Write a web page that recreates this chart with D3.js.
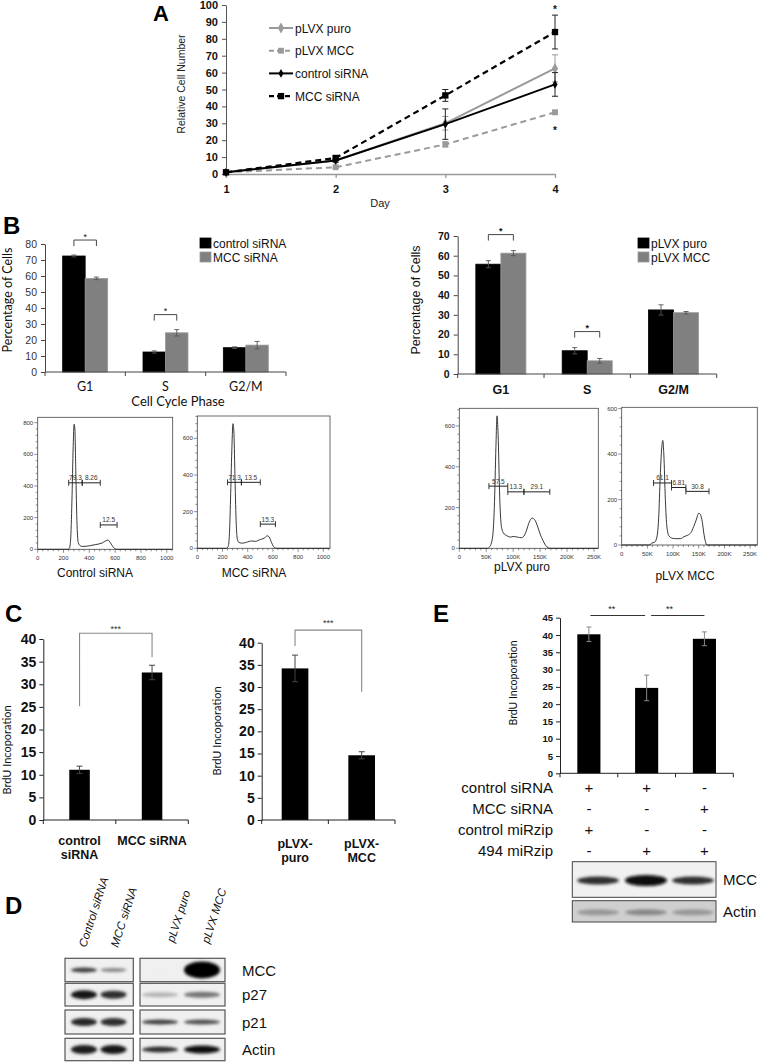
<!DOCTYPE html>
<html><head><meta charset="utf-8">
<script src="https://cdn.jsdelivr.net/npm/d3@7"></script>
<style>body{margin:0;background:#fff}svg{display:block}</style>
</head><body><script>
const FONT = "'Liberation Sans', Arial, sans-serif";
const HUM = "Lato, 'Open Sans', sans-serif";

// ---------------- DATA ----------------
// Panel A
const daysA = [1, 2, 3, 4];
const yTicksA = [0,10,20,30,40,50,60,70,80,90,100];
const pLVXpuroA = [1, 8, 30, 62.5];
const pLVXpuroErrA = [0.3, 1, 4, 8];
const pLVXmccA = [1, 4, 17.5, 36.5];
const pLVXmccErrA = [0.3, 0.7, 1.5, 1.2];
const ctrlSiA = [1, 8, 29.5, 53];
const ctrlSiErrA = [0.3, 1, 9, 7];
const mccSiA = [1, 9.5, 46.5, 84];
const mccSiErrA = [0.3, 1, 3.5, 10];
const legendA = ["pLVX puro", "pLVX MCC", "control siRNA", "MCC siRNA"];

// Panel B
const phasesB = ["G1", "S", "G2/M"];
const ctrlSiB = [72.5, 12.5, 15.2];
const ctrlSiErrB = [0.6, 0.7, 0.5];
const mccSiB = [58.5, 24.5, 16.8];
const mccSiErrB = [0.8, 2.0, 2.3];
const puroB = [55.7, 11.8, 32.5];
const puroErrB = [1.8, 1.6, 2.6];
const lvxMccB = [61.3, 6.7, 31.1];
const lvxMccErrB = [1.3, 1.2, 0.6];
const sigB = [0, 1]; // categories with "*"

// Flow histograms (x, count)
const hist1Pts = [[0,0],[230,0],[245,5],[255,60],[265,300],[275,650],[282,790],[288,760],[295,500],[305,150],[315,40],[330,22],[350,18],[400,22],[450,30],[500,40],[530,55],[545,58],[560,45],[580,20],[600,3],[620,0],[1040,0]];
const hist1Gates = [[240,345,420],[345,485,420],[485,615,154]];
const hist1Labels = ["79.3","8.26","12.5"];
const hist2Pts = [[0,0],[230,0],[245,10],[255,80],[265,300],[275,560],[283,680],[290,640],[298,420],[308,150],[318,50],[330,32],[360,28],[400,35],[430,40],[460,38],[500,48],[530,55],[555,68],[570,62],[590,30],[610,5],[630,0],[1050,0]];
const hist2Gates = [[240,350,360],[350,500,360],[500,620,132]];
const hist2Labels = ["71.3","13.5","15.3"];
const hist3Pts = [[0,0],[52,0],[57,10],[62,60],[65,200],[68,500],[70,650],[72,560],[75,250],[78,110],[82,75],[88,62],[95,55],[100,58],[108,55],[115,52],[120,60],[125,90],[130,130],[135,148],[140,140],[145,110],[150,70],[155,40],[160,15],[165,3],[170,0],[258,0]];
const hist3Gates = [[55,90,305],[90,120,277],[120,168,277]];
const hist3Labels = ["57.5","13.3","29.1"];
const hist4Pts = [[0,0],[55,0],[58,8],[64,12],[68,30],[72,120],[75,300],[78,430],[80,460],[82,400],[85,200],[88,80],[92,40],[98,30],[105,28],[115,28],[120,35],[125,40],[130,45],[135,55],[140,80],[145,110],[150,140],[153,135],[157,100],[160,50],[163,15],[166,0],[264,0]];
const hist4Gates = [[62,97,273],[97,125,253],[125,170,236]];
const hist4Labels = ["61.1","6.81","30.8"];
const histSiTicksX = [0,200,400,600,800,1000];
const hist1TicksY = [0,200,400,600,800];
const hist2TicksY = [0,200,400,600];
const histLvxTicksX = [0,50,100,150,200,250];
const histLvxTicksY = [0,200,400,600];

// Panel C
const c1Cats = ["control siRNA", "MCC siRNA"];
const c1Lines = [["control","siRNA"],["MCC siRNA"]];
const c1Vals = [11.1, 32.6];
const c1Err = [0.8, 1.6];
const c2Cats = ["pLVX-puro", "pLVX-MCC"];
const c2Lines = [["pLVX-","puro"],["pLVX-","MCC"]];
const c2Vals = [34.2, 14.6];
const c2Err = [3.0, 0.8];
const yTicksC = [0,5,10,15,20,25,30,35,40];

// Panel E
const eCats = ["a","b","c"];
const eVals = [40.2, 24.7, 38.9];
const eErr = [2.1, 3.7, 2.0];
const yTicksE = [0,5,10,15,20,25,30,35,40,45];
const eRows = ["control siRNA","MCC siRNA","control miRzip","494 miRzip"];
const eSigns = [["+","+","-"],["-","-","+"],["+","-","-"],["-","+","+"]];
const eBlotRows = ["MCC","Actin"];
const eBlotDark = [[0.85,0.97,0.85],[0.5,0.55,0.5]];
const eBlotThick = [[8,11,8],[6,6,6]];

// Panel D
const dLanes = ["Control siRNA","MCC siRNA","pLVX puro","pLVX MCC"];
const dRows = ["MCC","p27","p21","Actin"];
const dLeftDark = [[0.8,0.55],[0.92,0.85],[0.88,0.85],[0.9,0.92]];
const dLeftThick = [[5,4],[9,8],[8,8],[9,9]];
const dRightDark = [[0.12,1],[0.4,0.62],[0.8,0.75],[0.85,0.95]];
const dRightThick = [[3,17],[5,6],[5,5],[6,8]];

// ---------------- SETUP ----------------
const svg = d3.select("body").append("svg").attr("width",761).attr("height",1062)
  .style("font-family",FONT);
const defs = svg.append("defs");
defs.append("filter").attr("id","blur").attr("x","-50%").attr("y","-150%").attr("width","200%").attr("height","400%")
  .append("feGaussianBlur").attr("stdDeviation",1.6);

function txt(g, s, x, y, o={}) {
  return g.append("text").attr("x",x).attr("y",y).text(s)
    .attr("font-size",o.size||12).attr("font-weight",o.bold?"bold":"normal")
    .attr("font-style",o.italic?"italic":"normal")
    .attr("font-family",o.font||FONT).attr("fill",o.fill||"#111")
    .attr("text-anchor",o.anchor||"start");
}
function vtxt(g, s, x, y, o={}) {
  return txt(g,s,0,0,Object.assign({anchor:"middle"},o)).attr("transform",`translate(${x},${y}) rotate(-90)`);
}
function errBar(g, cx, yt, yb, cap, color, w) {
  g.append("line").attr("x1",cx).attr("x2",cx).attr("y1",yt).attr("y2",yb).attr("stroke",color).attr("stroke-width",w||1);
  [yt,yb].forEach(yy=>g.append("line").attr("x1",cx-cap).attr("x2",cx+cap).attr("y1",yy).attr("y2",yy).attr("stroke",color).attr("stroke-width",w||1));
}
function styleAxis(a, o) {
  a.select(".domain").attr("stroke",o.stroke||"#222").attr("stroke-width",o.sw||1);
  a.selectAll(".tick line").attr("stroke",o.stroke||"#222");
  a.selectAll("text").attr("font-size",o.size||10).attr("font-weight",o.bold?"bold":"normal")
   .attr("font-family",o.font||FONT).attr("fill",o.fill||"#111");
}

// panel letters
[["A",153,21,22],["B",3,234,24],["C",5,622,24],["D",5,914,24],["E",433,622,24]].forEach(([l,x,y,s])=>
  txt(svg,l,x,y,{size:s,bold:true,fill:"#000"}));

// ---------------- PANEL A ----------------
(function(){
  const g = svg.append("g");
  const x = d3.scalePoint().domain(daysA).range([226,555]);
  const y = d3.scaleLinear().domain([0,100]).range([174,5]);
  const ya = g.append("g").attr("transform","translate(226,0)")
    .call(d3.axisLeft(y).tickValues(yTicksA).tickSize(4).tickSizeOuter(0).tickPadding(4));
  styleAxis(ya,{stroke:"#555",size:11,bold:true});
  const xa = g.append("g").attr("transform","translate(0,174)")
    .call(d3.axisBottom(x).tickSize(4).tickSizeOuter(0).tickPadding(7));
  styleAxis(xa,{stroke:"#999",sw:1.6,size:11,bold:true});
  xa.selectAll(".tick line").attr("stroke","#999").attr("stroke-width",1.3);
  vtxt(g,"Relative Cell Number",185,84,{size:10.5,fill:"#222"});
  txt(g,"Day",380,207,{size:11,anchor:"middle",fill:"#222"});

  const series = [
    {vals:pLVXmccA, err:pLVXmccErrA, color:"#9a9a9a", dash:"6,4", sym:d3.symbolSquare, size:34, w:2},
    {vals:pLVXpuroA, err:pLVXpuroErrA, color:"#9a9a9a", dash:null, sym:d3.symbolDiamond, size:34, w:2},
    {vals:ctrlSiA, err:ctrlSiErrA, color:"#000", dash:null, sym:d3.symbolDiamond, size:22, w:2},
    {vals:mccSiA, err:mccSiErrA, color:"#000", dash:"6,4", sym:d3.symbolSquare, size:40, w:2.2}
  ];
  const line = d3.line().x((d,i)=>x(daysA[i])).y(d=>y(d));
  series.forEach(s=>{
    s.vals.forEach((v,i)=>{ if(s.err[i]>0.5) errBar(g,x(daysA[i]),y(v+s.err[i]),y(v-s.err[i]),3,s.color==="#000"?"#222":"#999",1); });
    g.append("path").attr("d",line(s.vals)).attr("fill","none").attr("stroke",s.color)
      .attr("stroke-width",s.w).attr("stroke-dasharray",s.dash);
    g.selectAll(null).data(s.vals).join("path")
      .attr("d",d3.symbol().type(s.sym).size(s.size))
      .attr("transform",(d,i)=>`translate(${x(daysA[i])},${y(d)})`).attr("fill",s.color);
  });
  // asterisks at day 4
  txt(g,"*",x(4),y(mccSiA[3]+mccSiErrA[3]),{size:10,bold:true,anchor:"middle"}).attr("dy",-2);
  txt(g,"*",x(4),y(pLVXmccA[3]-pLVXmccErrA[3]),{size:10,bold:true,anchor:"middle"}).attr("dy",20);
  // legend (order as in figure)
  const legOrder = [1,0,2,3];
  legOrder.forEach((si,k)=>{
    const s = series[si], ly = 28 + k*22.7;
    g.append("line").attr("x1",269).attr("x2",293).attr("y1",ly).attr("y2",ly).attr("stroke",s.color)
      .attr("stroke-width",s.w).attr("stroke-dasharray",s.dash?"5,3":null);
    g.append("path").attr("d",d3.symbol().type(s.sym).size(s.size)).attr("transform",`translate(281,${ly})`).attr("fill",s.color);
    txt(g,legendA[k],295,ly+4.5,{size:12,fill:"#111"});
  });
})();

// ---------------- PANEL B bars ----------------
function groupedBar(o){
  const g = svg.append("g");
  const x0 = d3.scaleBand().domain(o.cats).range([o.xL,o.xR]).paddingInner(o.pad).paddingOuter(o.pad/2);
  const x1 = d3.scaleBand().domain([0,1]).range([0,x0.bandwidth()]);
  const y = d3.scaleLinear().domain([0,o.yMax]).range([o.yB,o.yT]);
  const ya = g.append("g").attr("transform",`translate(${o.xL},0)`)
    .call(d3.axisLeft(y).tickValues(d3.range(0,o.yMax+1,10)).tickSize(4).tickSizeOuter(0).tickPadding(4));
  styleAxis(ya,{stroke:"#444",size:10.5,bold:o.boldTicks,fill:o.boldTicks?"#111":"#333"});
  o.series.forEach((s,si)=>{
    g.selectAll(null).data(s.vals).join("rect")
      .attr("x",(d,i)=>x0(o.cats[i])+x1(si)).attr("width",x1.bandwidth())
      .attr("y",d=>y(d)).attr("height",d=>y(0)-y(d))
      .attr("fill",s.color).attr("stroke",s.edge).attr("stroke-width",0.8);
    s.vals.forEach((v,i)=>errBar(g,x0(o.cats[i])+x1(si)+x1.bandwidth()/2,y(v+s.err[i]),y(v-s.err[i]),2.5,"#555",0.9));
  });
  g.append("line").attr("x1",o.xL).attr("x2",o.xR).attr("y1",o.yB).attr("y2",o.yB).attr("stroke","#444");
  const bounds = o.cats.map(c=>x0(c)-x0.step()*o.pad/2).concat([o.xR]);
  bounds.forEach(b=>g.append("line").attr("x1",b).attr("x2",b).attr("y1",o.yB).attr("y2",o.yB+4).attr("stroke","#444"));
  o.cats.forEach(c=>txt(g,c,x0(c)+x0.bandwidth()/2,o.catY,{size:12.5,bold:o.boldTicks,anchor:"middle",font:o.catFont,fill:"#111"}));
  sigB.forEach(i=>{
    const c = o.cats[i];
    const top = Math.max(...o.series.map(s=>s.vals[i]+s.err[i]));
    const by = y(top)-o.brOff;
    const xa = x0(c)+x1(0)+x1.bandwidth()/2, xb = x0(c)+x1(1)+x1.bandwidth()/2;
    g.append("path").attr("d",`M${xa},${by+6}V${by}H${xb}V${by+6}`).attr("fill","none").attr("stroke","#333").attr("stroke-width",0.9);
    txt(g,"*",(xa+xb)/2,by-0.5,{size:9,anchor:"middle",bold:o.boldTicks});
  });
  vtxt(g,"Percentage of Cells",o.ylX,o.ylY,{size:12.5,font:o.catFont,fill:"#111"});
  o.series.forEach((s,si)=>{
    const ly = o.legY + si*14;
    g.append("rect").attr("x",o.legX).attr("y",ly-5).attr("width",11).attr("height",10).attr("fill",s.color).attr("stroke",s.edge).attr("stroke-width",0.8);
    txt(g,s.name,o.legX+13,ly+4.5,{size:12,fill:"#111"});
  });
  return g;
}
const gBL = groupedBar({cats:phasesB,xL:45,xR:286,yT:244,yB:372,yMax:80,pad:0.44,boldTicks:false,catFont:HUM,catY:391,brOff:15,
  ylX:12,ylY:300,legX:200,legY:243,
  series:[{name:"control siRNA",vals:ctrlSiB,err:ctrlSiErrB,color:"#000",edge:"#000"},
          {name:"MCC siRNA",vals:mccSiB,err:mccSiErrB,color:"#808080",edge:"#9a9a9a"}]});
txt(gBL,"Cell Cycle Phase",178,406,{size:13,anchor:"middle",font:HUM,fill:"#111"});
groupedBar({cats:phasesB,xL:457.7,xR:716.7,yT:236,yB:374,yMax:70,pad:0.42,boldTicks:true,catFont:FONT,catY:394,brOff:16,
  ylX:420,ylY:300,legX:638,legY:243,
  series:[{name:"pLVX puro",vals:puroB,err:puroErrB,color:"#000",edge:"#000"},
          {name:"pLVX MCC",vals:lvxMccB,err:lvxMccErrB,color:"#808080",edge:"#9a9a9a"}]});

// ---------------- FLOW HISTOGRAMS ----------------
function hist(o){
  const g = svg.append("g");
  const x = d3.scaleLinear().domain([0,o.xMax]).range([o.x0,o.x1]);
  const y = d3.scaleLinear().domain([0,o.yMax]).range([o.y1,o.y0]);
  g.append("rect").attr("x",o.x0).attr("y",o.y0).attr("width",o.x1-o.x0).attr("height",o.y1-o.y0)
    .attr("fill","none").attr("stroke","#444").attr("stroke-width",0.8);
  const xs = o.xTicks[1]-o.xTicks[0], ys = o.yTicks[1]-o.yTicks[0];
  d3.range(0,o.xMax,xs/5).forEach(v=>{
    const major = o.xTicks.some(t=>Math.abs(t-v)<1e-6);
    g.append("line").attr("x1",x(v)).attr("x2",x(v)).attr("y1",o.y1).attr("y2",o.y1+(major?3.5:2)).attr("stroke","#444").attr("stroke-width",0.6);
  });
  d3.range(0,o.yMax,ys/5).forEach(v=>{
    const major = o.yTicks.some(t=>Math.abs(t-v)<1e-6);
    g.append("line").attr("x1",o.x0).attr("x2",o.x0-(major?3.5:2)).attr("y1",y(v)).attr("y2",y(v)).attr("stroke","#444").attr("stroke-width",0.6);
  });
  o.xTicks.forEach(t=>txt(g,o.xFmt(t),x(t),o.y1+11,{size:6,anchor:"middle",fill:"#333"}));
  o.yTicks.forEach(t=>txt(g,String(t),o.x0-4.5,y(t)+2,{size:6,anchor:"end",fill:"#333"}));
  g.append("path").attr("d",d3.line().x(d=>x(d[0])).y(d=>y(d[1])).curve(d3.curveMonotoneX)(o.pts))
    .attr("fill","none").attr("stroke","#222").attr("stroke-width",0.9);
  o.gates.forEach((gt,i)=>{
    const gy = y(gt[2]);
    g.append("line").attr("x1",x(gt[0])).attr("x2",x(gt[1])).attr("y1",gy).attr("y2",gy).attr("stroke","#222").attr("stroke-width",1);
    [gt[0],gt[1]].forEach(v=>g.append("line").attr("x1",x(v)).attr("x2",x(v)).attr("y1",gy-3).attr("y2",gy+3).attr("stroke","#222").attr("stroke-width",0.9));
    txt(g,o.labels[i],(x(gt[0])+x(gt[1]))/2,gy-2.5,{size:6.5,anchor:"middle",fill:"#333"});
  });
  txt(g,o.title,o.tx,o.ty,{size:12,anchor:"middle",fill:"#111"});
}
hist({x0:37.7,x1:172.7,y0:417.3,y1:549.3,xMax:1046,yMax:834,xTicks:histSiTicksX,yTicks:hist1TicksY,xFmt:String,
  pts:hist1Pts,gates:hist1Gates,labels:hist1Labels,title:"Control siRNA",tx:95,ty:577});
hist({x0:197.3,x1:330,y0:416,y1:548.3,xMax:1053,yMax:722,xTicks:histSiTicksX,yTicks:hist2TicksY,xFmt:String,
  pts:hist2Pts,gates:hist2Gates,labels:hist2Labels,title:"MCC siRNA",tx:254,ty:577});
hist({x0:459.3,x1:598.3,y0:408.3,y1:548.3,xMax:258,yMax:687,xTicks:histLvxTicksX,yTicks:histLvxTicksY,xFmt:t=>t===0?"0":t+"K",
  pts:hist3Pts,gates:hist3Gates,labels:hist3Labels,title:"pLVX puro",tx:522,ty:571});
hist({x0:621.7,x1:757.3,y0:407.3,y1:545,xMax:264,yMax:606,xTicks:histLvxTicksX,yTicks:histLvxTicksY,xFmt:t=>t===0?"0":t+"K",
  pts:hist4Pts,gates:hist4Gates,labels:hist4Labels,title:"pLVX MCC",tx:685,ty:580});

// ---------------- PANEL C ----------------
function simpleBar(o){
  const g = svg.append("g");
  const x = d3.scaleBand().domain(o.cats).range([o.xL,o.xR]).paddingInner(o.pad).paddingOuter(o.pad/2);
  const y = d3.scaleLinear().domain([0,o.yMax]).range([o.yB,o.yT]);
  const ya = g.append("g").attr("transform",`translate(${o.xL},0)`)
    .call(d3.axisLeft(y).tickValues(o.yTicks).tickSize(4).tickSizeOuter(0).tickPadding(o.tp||3));
  styleAxis(ya,{stroke:"#222",size:o.tickSize,bold:true,fill:"#111"});
  g.selectAll(null).data(o.vals).join("rect")
    .attr("x",(d,i)=>x(o.cats[i])).attr("width",x.bandwidth())
    .attr("y",d=>y(d)).attr("height",d=>y(0)-y(d)).attr("fill","#000");
  o.vals.forEach((v,i)=>errBar(g,x(o.cats[i])+x.bandwidth()/2,y(v+o.err[i]),y(v-o.err[i]),o.cap||3,o.errColor||"#444",1));
  g.append("line").attr("x1",o.xL).attr("x2",o.xR).attr("y1",o.yB).attr("y2",o.yB).attr("stroke","#222");
  const bounds = o.cats.map(c=>x(c)-x.step()*o.pad/2).concat([o.xR]);
  bounds.forEach(b=>g.append("line").attr("x1",b).attr("x2",b).attr("y1",o.yB).attr("y2",o.yB+4).attr("stroke","#222"));
  return {g,x,y};
}
(function(){
  const c1 = simpleBar({cats:c1Cats,vals:c1Vals,err:c1Err,xL:43.3,xR:188.3,yT:639,yB:820,yMax:40,yTicks:yTicksC,pad:0.717,tickSize:14,cap:3});
  c1Lines.forEach((ls,i)=>ls.forEach((l,k)=>txt(c1.g,l,c1.x(c1Cats[i])+c1.x.bandwidth()/2,845+k*14,{size:12.5,bold:true,anchor:"middle"})));
  vtxt(c1.g,"BrdU Incoporation",11,750,{size:11,font:HUM});
  const xa = c1.x(c1Cats[0])+c1.x.bandwidth()/2, xb = c1.x(c1Cats[1])+c1.x.bandwidth()/2;
  const by = c1.y(c1Vals[1]+c1Err[1])-32;
  c1.g.append("path").attr("d",`M${xa},${c1.y(c1Vals[0]+c1Err[0])-60}V${by}H${xb}V${c1.y(c1Vals[1]+c1Err[1])-8}`)
    .attr("fill","none").attr("stroke","#888").attr("stroke-width",1.1);
  txt(c1.g,"***",(xa+xb)/2,by-1,{size:9,anchor:"middle",fill:"#333"});

  const c2 = simpleBar({cats:c2Cats,vals:c2Vals,err:c2Err,xL:261.7,xR:395,yT:642.7,yB:820,yMax:40,yTicks:yTicksC,pad:0.6,tickSize:14,cap:3});
  c2Lines.forEach((ls,i)=>ls.forEach((l,k)=>txt(c2.g,l,c2.x(c2Cats[i])+c2.x.bandwidth()/2,848+k*14,{size:12.5,bold:true,anchor:"middle"})));
  vtxt(c2.g,"BrdU Incoporation",221,731,{size:11,font:HUM});
  const xa2 = c2.x(c2Cats[0])+c2.x.bandwidth()/2, xb2 = c2.x(c2Cats[1])+c2.x.bandwidth()/2;
  const by2 = c2.y(c2Vals[0]+c2Err[0])-25;
  c2.g.append("path").attr("d",`M${xa2},${c2.y(c2Vals[0]+c2Err[0])-9}V${by2}H${xb2}V${c2.y(c2Vals[1]+c2Err[1])-60}`)
    .attr("fill","none").attr("stroke","#888").attr("stroke-width",1.1);
  txt(c2.g,"***",(xa2+xb2)/2,by2-4,{size:9,anchor:"middle",fill:"#333"});
})();

// ---------------- PANEL E ----------------
(function(){
  const e = simpleBar({cats:eCats,vals:eVals,err:eErr,xL:560,xR:733.3,yT:617.7,yB:773.3,yMax:45,yTicks:yTicksE,pad:0.6,tickSize:9.5,cap:2.5,errColor:"#888"});
  vtxt(e.g,"BrdU Incoporation",517,683,{size:10.5,font:HUM});
  const cx = i=>e.x(eCats[i])+e.x.bandwidth()/2;
  const ly = 615.5;
  [[0,1],[1,2]].forEach(([a,b],k)=>{
    const x1 = cx(a)+1.5 + (k===1?3:0), x2 = cx(b)-(k===0?1.5:0);
    e.g.append("line").attr("x1",x1).attr("x2",x2).attr("y1",ly).attr("y2",ly).attr("stroke","#333").attr("stroke-width",1);
    txt(e.g,"**",(cx(a)+cx(b))/2-6,ly-4,{size:9,anchor:"middle",fill:"#222"});
  });
  eRows.forEach((r,ri)=>{
    const ry = 793 + ri*21;
    txt(e.g,r,553,ry,{size:15,anchor:"end",fill:"#111"});
    eSigns[ri].forEach((s,ci)=>txt(e.g,s,cx(ci),ry,{size:15,anchor:"middle",fill:"#111"}));
  });
  const bx0 = 572.3, bx1 = 716, rowsY = [[861.7,897.3],[900.7,922]];
  const laneX = [598,646,693];
  rowsY.forEach(([t,b],ri)=>{
    e.g.append("rect").attr("x",bx0).attr("y",t).attr("width",bx1-bx0).attr("height",b-t)
      .attr("fill",ri===0?"#f1f1f1":"#cfcfcf").attr("stroke","#444").attr("stroke-width",1);
    eBlotDark[ri].forEach((d,li)=>e.g.append("ellipse").attr("cx",laneX[li]).attr("cy",(t+b)/2+1)
      .attr("rx",21).attr("ry",eBlotThick[ri][li]/2).attr("fill",d3.interpolateGreys(d)).attr("filter","url(#blur)"));
    txt(e.g,eBlotRows[ri],723,(t+b)/2+5.5,{size:15,fill:"#111"});
  });
})();

// ---------------- PANEL D ----------------
(function(){
  const g = svg.append("g");
  const rowsY = [[958.3,981.7],[983.3,1006],[1010,1034],[1038.3,1060.7]];
  const boxes = [{x0:65,x1:133.3,lanes:[84,113.5],w:26,dark:dLeftDark,thick:dLeftThick},
                 {x0:140,x1:225,lanes:[160,202],w:36,dark:dRightDark,thick:dRightThick}];
  rowsY.forEach(([t,b],ri)=>{
    boxes.forEach(bx=>{
      g.append("rect").attr("x",bx.x0).attr("y",t).attr("width",bx.x1-bx.x0).attr("height",b-t)
        .attr("fill","#f0f0f0").attr("stroke","#555").attr("stroke-width",1.2);
      bx.dark[ri].forEach((d,li)=>g.append("ellipse").attr("cx",bx.lanes[li]).attr("cy",(t+b)/2)
        .attr("rx",bx.w/2).attr("ry",bx.thick[ri][li]/2).attr("fill",d3.interpolateGreys(d)).attr("filter","url(#blur)"));
    });
    txt(g,dRows[ri],242,(t+b)/2+5.5,{size:15,fill:"#111"});
  });
  const anchors = [[86,948],[118,948],[174,943],[209,944]];
  dLanes.forEach((l,i)=>txt(g,l,0,0,{size:11.5,italic:true,fill:"#111"})
    .attr("transform",`translate(${anchors[i][0]},${anchors[i][1]}) rotate(-72)`));
})();
</script></body></html>
